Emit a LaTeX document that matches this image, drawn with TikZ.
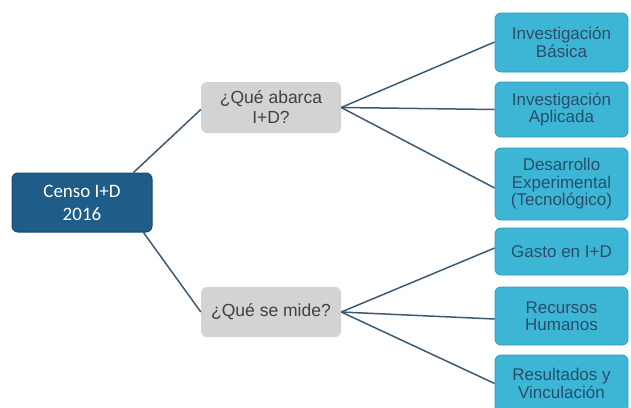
\documentclass[tikz,border=0pt]{standalone}
\usepackage{fontspec}
\setmainfont{Liberation Sans}
\newfontfamily\rootfont{Carlito}
\definecolor{rootfill}{HTML}{1F5C88}
\definecolor{rootdraw}{HTML}{174A6E}
\definecolor{qfill}{HTML}{D3D3D3}
\definecolor{qtext}{HTML}{404040}
\definecolor{cfill}{HTML}{3DB6D6}
\definecolor{cdraw}{HTML}{2C9CBE}
\definecolor{ctext}{HTML}{2A4E6A}
\definecolor{link}{HTML}{3B5A74}
\begin{document}
\begin{tikzpicture}[x=1pt,y=-1pt,
  rootbox/.style={draw=rootdraw,line width=1pt,fill=rootfill,rounded corners=6pt,text=white,align=center,
    font=\rootfont\fontsize{19}{23}\selectfont,minimum width=140pt,inner sep=0pt},
  qbox/.style={fill=qfill,rounded corners=6pt,text=qtext,align=center,
    font=\fontsize{17.5}{20}\selectfont,minimum width=140pt,inner sep=0pt},
  cbox/.style={draw=cdraw,line width=0.8pt,fill=cfill,rounded corners=6pt,text=ctext,align=center,
    font=\fontsize{17}{17.5}\selectfont,minimum width=133pt,inner sep=0pt},
  link/.style={draw=link,line width=1.5pt}]
\useasboundingbox (0,0) rectangle (631,407);
\node[rootbox,minimum height=59pt] (root) at (82,202.5) {Censo I+D\\2016};
\node[qbox,minimum height=51pt] (q1) at (271,107.5) {¿Qué abarca\\I+D?};
\node[qbox,minimum height=50pt] (q2) at (271,312) {¿Qué se mide?};
\node[cbox,minimum height=59pt] (r1) at (561.5,42.5) {Investigación\\Básica};
\node[cbox,minimum height=55pt] (r2) at (561.5,109.5) {Investigación\\Aplicada};
\node[cbox,minimum height=72pt] (r3) at (561.5,184) {Desarrollo\\Experimental\\(Tecnológico)};
\node[cbox,minimum height=47pt] (r4) at (561.5,251.5) {Gasto en I+D};
\node[cbox,minimum height=58pt] (r5) at (561.5,316) {Recursos\\Humanos};
\node[cbox,minimum height=57pt] (r6) at (561.5,383.5) {Resultados y\\Vinculación};
\draw[link] ([xshift=-19pt]root.north east) -- ([yshift=-2pt]q1.west);
\draw[link] ([xshift=-9pt]root.south east) -- (q2.west);
\draw[link] (q1.east) -- ([yshift=0.5pt]r1.west);
\draw[link] (q1.east) -- (r2.west);
\draw[link] (q1.east) -- ([yshift=-4pt]r3.west);
\draw[link] (q2.east) -- ([yshift=3.5pt]r4.west);
\draw[link] (q2.east) -- ([yshift=-3pt]r5.west);
\draw[link] (q2.east) -- (r6.west);
\end{tikzpicture}
\end{document}
